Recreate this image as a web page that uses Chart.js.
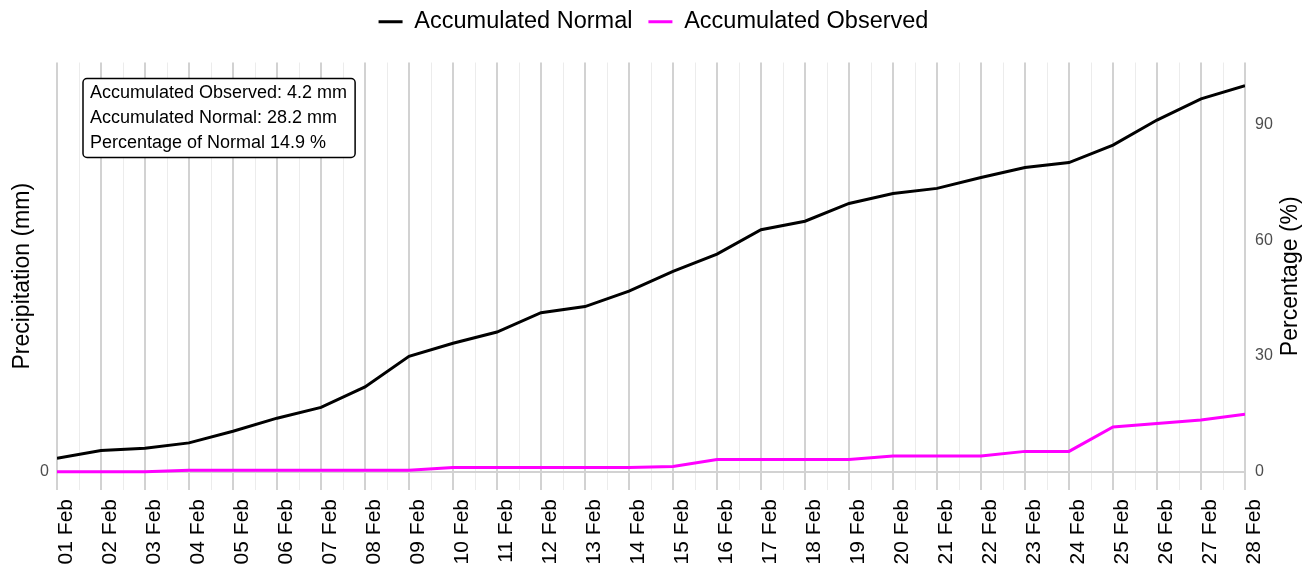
<!DOCTYPE html>
<html>
<head>
<meta charset="utf-8">
<script src="https://cdn.jsdelivr.net/npm/chart.js@4.4.0/dist/chart.umd.min.js"></script>
<style>
  html, body { margin: 0; padding: 0; background: #fff; }
  #wrap { width: 1302px; height: 570px; position: relative; }
</style>
</head>
<body>
<div id="wrap"><canvas id="grafico"></canvas></div>
<script>
const days = ['01 Feb', '02 Feb', '03 Feb', '04 Feb', '05 Feb', '06 Feb', '07 Feb',
              '08 Feb', '09 Feb', '10 Feb', '11 Feb', '12 Feb', '13 Feb', '14 Feb',
              '15 Feb', '16 Feb', '17 Feb', '18 Feb', '19 Feb', '20 Feb', '21 Feb',
              '22 Feb', '23 Feb', '24 Feb', '25 Feb', '26 Feb', '27 Feb', '28 Feb'];

// accumulated values, in % of the monthly normal
const normalPct = [3.5, 5.5, 6.1, 7.5, 10.5, 13.9, 16.7, 22.0, 29.9, 33.3, 36.2, 41.2, 42.8, 46.8,
                   51.9, 56.4, 62.7, 64.9, 69.5, 72.1, 73.4, 76.2, 78.8, 80.1, 84.6, 91.1, 96.6, 100];
const observedPct = [0, 0, 0, 0.4, 0.4, 0.4, 0.4, 0.4, 0.4, 1.1, 1.1, 1.1, 1.1, 1.1,
                     1.4, 3.2, 3.2, 3.2, 3.2, 4.1, 4.1, 4.1, 5.3, 5.3, 11.6, 12.5, 13.4, 14.9];

const leftTicks = [0];
const rightTicks = [0, 30, 60, 90];

const summaryLines = ['Accumulated Observed: 4.2 mm',
                      'Accumulated Normal: 28.2 mm',
                      'Percentage of Normal 14.9 %'];

const FONT = '"Liberation Sans", Arial, sans-serif';
Chart.defaults.font.family = FONT;

const toPoints = arr => arr.map((v, i) => ({x: i, y: v}));

// extra room under the legend
const legendGap = {
    id: 'legendGap',
    beforeInit(chart) {
        const fit = chart.legend.fit;
        chart.legend.fit = function () {
            fit.bind(chart.legend)();
            this.height += 19;
        };
    }
};

// right axis title reads bottom-to-top, chart.js would turn it the other way
const rightTitle = {
    id: 'rightTitle',
    afterDraw(chart) {
        const ctx = chart.ctx;
        const area = chart.chartArea;
        ctx.save();
        ctx.translate(chart.scales.y1.right - 11, (area.top + area.bottom) / 2);
        ctx.rotate(-Math.PI / 2);
        ctx.font = '23px ' + FONT;
        ctx.fillStyle = '#000';
        ctx.textAlign = 'center';
        ctx.textBaseline = 'middle';
        ctx.fillText('Percentage (%)', 0, 0);
        ctx.restore();
    }
};

// the little summary box top left
const summaryBox = {
    id: 'summaryBox',
    afterDraw(chart) {
        const ctx = chart.ctx;
        const area = chart.chartArea;
        ctx.save();
        ctx.font = '18px ' + FONT;
        const w = Math.max(...summaryLines.map(s => ctx.measureText(s).width)) + 15;
        const x = area.left + 26, y = area.top + 16, h = 79;
        ctx.beginPath();
        ctx.roundRect(x, y, w, h, 4);
        ctx.fillStyle = '#fff';
        ctx.fill();
        ctx.lineWidth = 1.5;
        ctx.strokeStyle = '#000';
        ctx.stroke();
        ctx.fillStyle = '#000';
        ctx.textBaseline = 'middle';
        summaryLines.forEach((s, i) => ctx.fillText(s, x + 7, y + 15 + i * 25));
        ctx.restore();
    }
};

let miCanvas = document.getElementById('grafico').getContext('2d');

const myChart = new Chart(miCanvas, {
    type: 'line',
    data: {
        datasets: [
            {
                label: 'Accumulated Normal',
                data: toPoints(normalPct),
                borderColor: '#000000',
                backgroundColor: '#000000',
                borderWidth: 3,
                pointRadius: 0,
                tension: 0,
                yAxisID: 'y1'
            },
            {
                label: 'Accumulated Observed',
                data: toPoints(observedPct),
                borderColor: '#ff00ff',
                backgroundColor: '#ff00ff',
                borderWidth: 3,
                pointRadius: 0,
                tension: 0,
                yAxisID: 'y1'
            }
        ]
    },
    options: {
        responsive: true,
        maintainAspectRatio: false,
        animation: false,
        events: [],
        layout: { padding: { left: 5, right: 0, top: -6, bottom: 0 } },
        plugins: {
            tooltip: { enabled: false },
            legend: {
                position: 'top',
                labels: {
                    usePointStyle: true,
                    pointStyle: 'line',
                    pointStyleWidth: 24,
                    color: '#000',
                    font: { size: 23.5 },
                    padding: 16
                }
            }
        },
        scales: {
            x: {
                type: 'linear',
                min: 0,
                max: days.length - 1,
                afterBuildTicks: scale => {
                    const t = [];
                    for (let i = 0; i <= (days.length - 1) * 2; i++) t.push({ value: i / 2 });
                    scale.ticks = t;
                },
                ticks: {
                    autoSkip: false,
                    maxRotation: 90,
                    minRotation: 90,
                    labelOffset: 9,
                    padding: 9,
                    color: '#000',
                    font: { size: 21 },
                    callback: v => Number.isInteger(v) ? days[v] : ''
                },
                grid: {
                    drawTicks: false,
                    color: c => Number.isInteger(c.tick.value) ? '#d2d2d2' : '#ececec',
                    lineWidth: c => Number.isInteger(c.tick.value) ? 2 : 1
                },
                border: { display: false },
                afterFit: s => { s.height = 80; }
            },
            y: {
                position: 'left',
                min: -4.7,
                max: 106,
                afterBuildTicks: s => { s.ticks = leftTicks.map(v => ({ value: v })); },
                ticks: { color: '#4d4d4d', font: { size: 16 }, padding: 8 },
                grid: { color: '#d2d2d2', lineWidth: 2, drawTicks: false },
                border: { display: false },
                title: {
                    display: true,
                    text: 'Precipitation (mm)',
                    color: '#000',
                    font: { size: 23 },
                    padding: { top: 4, bottom: 0 }
                },
                afterFit: s => { s.width = 52; }
            },
            y1: {
                position: 'right',
                min: -4.7,
                max: 106,
                afterBuildTicks: s => { s.ticks = rightTicks.map(v => ({ value: v })); },
                ticks: { color: '#4d4d4d', font: { size: 16 }, padding: 10 },
                grid: { display: false, drawTicks: false },
                border: { display: false },
                afterFit: s => { s.width = 57; }
            }
        }
    },
    plugins: [legendGap, summaryBox, rightTitle]
});
</script>
</body>
</html>
